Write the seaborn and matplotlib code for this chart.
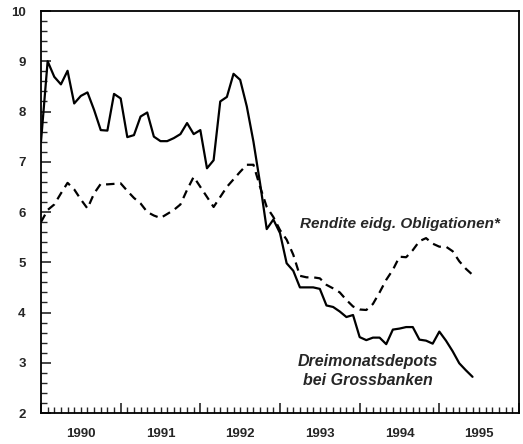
import numpy as np
import pandas as pd
import matplotlib
matplotlib.use("Agg")
import matplotlib.pyplot as plt
import seaborn as sns
from matplotlib.ticker import MultipleLocator, FixedLocator

# monthly values, month 0 = January 1990
depot_rate = [7.40, 9.00, 8.69, 8.54, 8.81, 8.16, 8.31, 8.38, 8.03, 7.63,
              7.62, 8.35, 8.26, 7.49, 7.53, 7.90, 7.98, 7.50, 7.41, 7.41,
              7.47, 7.55, 7.77, 7.55, 7.63, 6.87, 7.03, 8.20, 8.29, 8.75,
              8.63, 8.10, 7.40, 6.57, 5.66, 5.85, 5.58, 4.98, 4.83, 4.50,
              4.50, 4.50, 4.47, 4.14, 4.11, 4.02, 3.91, 3.95, 3.51, 3.45,
              3.50, 3.50, 3.37, 3.66, 3.68, 3.71, 3.71, 3.46, 3.44, 3.38,
              3.62, 3.44, 3.23, 2.99, 2.85, 2.72]
bond_yield = [5.80, 6.04, 6.15, 6.37, 6.58, 6.45, 6.25, 6.07, 6.37, 6.56,
              6.55, 6.56, 6.57, 6.42, 6.28, 6.17, 6.00, 5.93, 5.88, 5.96,
              6.04, 6.15, 6.44, 6.70, 6.50, 6.30, 6.10, 6.30, 6.50, 6.65,
              6.80, 6.94, 6.94, 6.50, 6.10, 5.90, 5.64, 5.45, 5.15, 4.73,
              4.70, 4.70, 4.68, 4.55, 4.48, 4.40, 4.25, 4.12, 4.06, 4.05,
              4.17, 4.40, 4.65, 4.85, 5.11, 5.10, 5.24, 5.42, 5.48, 5.37,
              5.31, 5.31, 5.22, 5.02, 4.87, 4.75]
years = ["1990", "1991", "1992", "1993", "1994", "1995"]

months = np.arange(len(depot_rate))
df = pd.DataFrame({"month": months, "depot": depot_rate, "bond": bond_yield})

sns.set_style("ticks")
plt.rcParams['font.family'] = ['Liberation Sans', 'DejaVu Sans']

fig = plt.figure(figsize=(5.23, 4.44), dpi=100)
ax = fig.add_axes([41 / 523, 1 - 413 / 444, 478 / 523, 402 / 444])

sns.lineplot(data=df, x="month", y="depot", ax=ax, color="black", linewidth=1.6)
sns.lineplot(data=df, x="month", y="bond", ax=ax, color="black", linewidth=1.6,
             dashes=False)
ax.lines[1].set_dashes((3.8, 2.6))

ax.set_xlim(0, 72)
ax.set_ylim(2, 10)
ax.set_xlabel("")
ax.set_ylabel("")

# y axis: integer labels, minor ticks every 0.2
ax.yaxis.set_major_locator(MultipleLocator(1))
ax.yaxis.set_minor_locator(MultipleLocator(0.2))
ax.tick_params(axis="y", which="major", direction="in", length=7, width=1.2,
               pad=11, labelsize=9.5)
ax.tick_params(axis="y", which="minor", direction="in", length=4, width=1)
for lab in ax.get_yticklabels():
    lab.set_fontweight("bold")

# x axis: year boundaries long, months short, labels centred in the year
ax.xaxis.set_major_locator(FixedLocator(np.arange(0, 73, 12)))
ax.xaxis.set_minor_locator(MultipleLocator(1))
ax.tick_params(axis="x", which="major", direction="in", length=7, width=1.2,
               labelbottom=False)
ax.tick_params(axis="x", which="minor", direction="in", length=4, width=1)

sec = ax.secondary_xaxis("bottom")
sec.set_xticks(np.arange(6, 72, 12), labels=years)
sec.tick_params(length=0, pad=11, labelsize=9.5)
sec.spines["bottom"].set_visible(False)
for lab in sec.get_xticklabels():
    lab.set_fontweight("bold")

for side in ["left", "right", "top", "bottom"]:
    ax.spines[side].set_visible(True)
    ax.spines[side].set_linewidth(1.3)
    ax.spines[side].set_color("black")

ax.text(54.0, 5.76, "Rendite eidg. Obligationen*", ha="center", va="center",
        fontsize=11, fontweight="bold", fontstyle="italic")
ax.text(49.2, 3.03, "Dreimonatsdepots", ha="center", va="center",
        fontsize=11.5, fontweight="bold", fontstyle="italic")
ax.text(49.2, 2.65, "bei Grossbanken", ha="center", va="center",
        fontsize=11.5, fontweight="bold", fontstyle="italic")

fig.savefig("out.png", dpi=100)
